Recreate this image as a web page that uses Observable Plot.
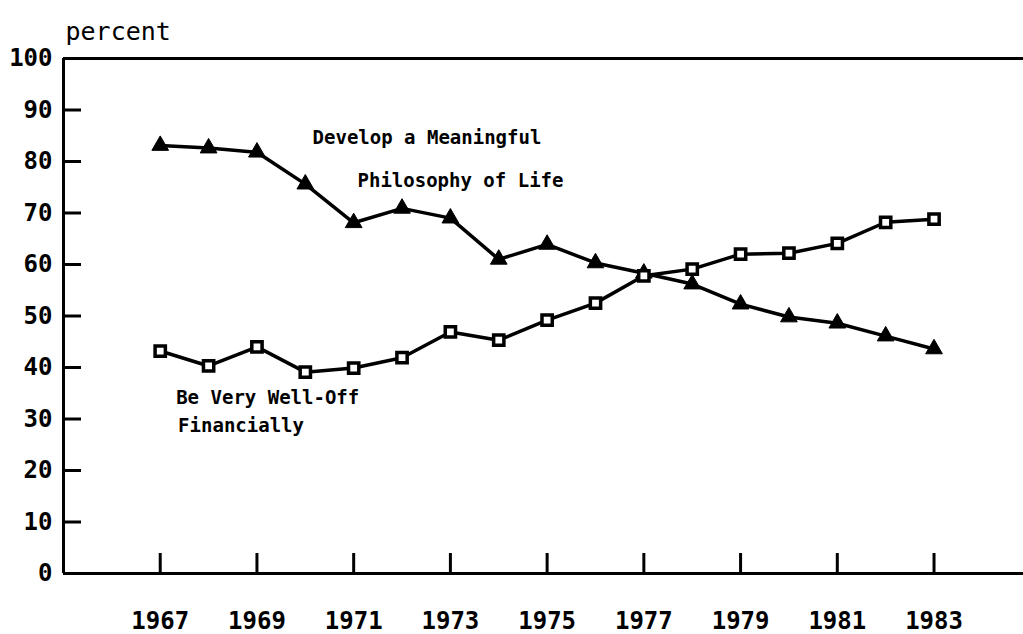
<!DOCTYPE html>
<html><head><meta charset="utf-8">
<script src="https://cdn.jsdelivr.net/npm/d3@7"></script>
<script src="https://cdn.jsdelivr.net/npm/@observablehq/plot@0.6"></script>
<style>body{margin:0;background:#fff;}</style>
</head><body><div id="chart"></div>
<script>
const years = [1967,1968,1969,1970,1971,1972,1973,1974,1975,1976,1977,1978,1979,1980,1981,1982,1983];
const philosophy = [83.1,82.6,81.8,75.6,68.1,70.9,69.0,61.0,63.9,60.3,58.3,56.2,52.3,49.8,48.6,46.1,43.6];
const wellOff = [43.2,40.3,44.0,39.1,39.9,41.9,46.9,45.3,49.2,52.5,57.8,59.1,62.0,62.2,64.1,68.2,68.8];
const xTickYears = [1967,1969,1971,1973,1975,1977,1979,1981,1983];
const yTickValues = [0,10,20,30,40,50,60,70,80,90,100];
const innerYTicks = [10,20,30,40,50,60,70,80,90];
const seriesLabels = [
  {text: "Develop a Meaningful", year: 1970.15, value: 84.5},
  {text: "Philosophy of Life", year: 1971.08, value: 76.3},
  {text: "Be Very Well-Off", year: 1967.33, value: 34.0},
  {text: "Financially", year: 1967.37, value: 28.7}
];
const yAxisTitle = "percent";

const phil = years.map((y, i) => ({year: y, value: philosophy[i]}));
const well = years.map((y, i) => ({year: y, value: wellOff[i]}));

const W = 1023, H = 634, mL = 63, mR = 0, mT = 58, mB = 61;
const plotW = W - mL - mR, plotH = H - mT - mB;

const chart = Plot.plot({
  width: W, height: H,
  marginLeft: mL, marginRight: mR, marginTop: mT, marginBottom: mB,
  x: {domain: [1965, 1984.85], label: null},
  y: {domain: [0, 100], label: null},
  style: {fontFamily: "DejaVu Sans Mono", color: "black", background: "white", overflow: "visible"},
  marks: [
    Plot.ruleY([0, 100], {stroke: "black", strokeWidth: 3}),
    Plot.ruleX([1965], {stroke: "black", strokeWidth: 3}),
    Plot.tickY(innerYTicks, {y: d => d, insetRight: plotW - 18, stroke: "black", strokeWidth: 3}),
    Plot.tickX(xTickYears, {x: d => d, insetTop: plotH - 20, stroke: "black", strokeWidth: 3}),
    Plot.axisY(yTickValues, {tickSize: 0, tickPadding: 11, fontSize: 24, fontWeight: "bold", label: null}),
    Plot.axisX(xTickYears, {tickSize: 0, tickPadding: 38, fontSize: 24, fontWeight: "bold", label: null, tickFormat: d => String(d)}),
    Plot.line(phil, {x: "year", y: "value", stroke: "black", strokeWidth: 3.5}),
    Plot.line(well, {x: "year", y: "value", stroke: "black", strokeWidth: 3.5}),
    Plot.dot(phil, {x: "year", y: "value", symbol: "triangle", r: 6.2, fill: "black", stroke: "black", strokeWidth: 1}),
    Plot.dot(well, {x: "year", y: "value", symbol: "square", r: 5.8, fill: "white", stroke: "black", strokeWidth: 3.5}),
    Plot.text(seriesLabels, {x: "year", y: "value", text: "text", textAnchor: "start", fontSize: 19, fontWeight: "bold", fill: "black"}),
    Plot.text([yAxisTitle], {frameAnchor: "top-left", text: d => d, textAnchor: "start", dx: 2, dy: -36, fontSize: 25, fill: "black"})
  ]
});
document.getElementById("chart").appendChild(chart);
</script>
</body></html>
